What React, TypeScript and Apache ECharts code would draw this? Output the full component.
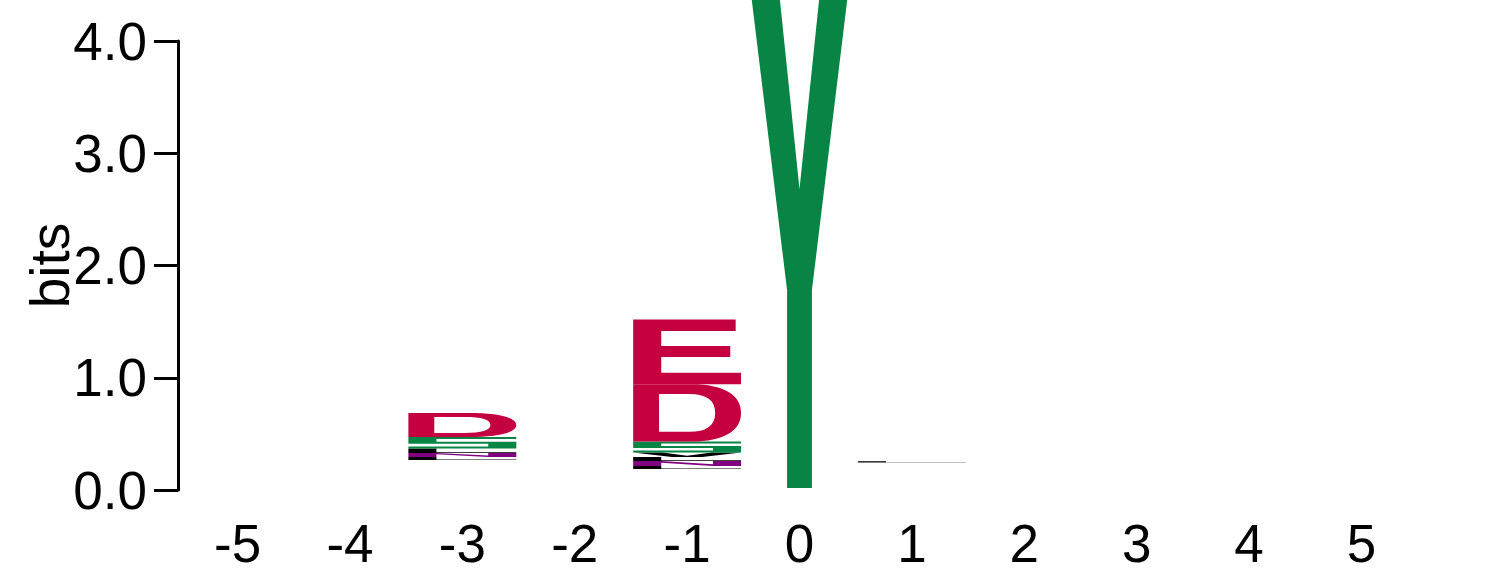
import React, { useEffect, useRef } from "react";
import * as echarts from "echarts";

// Positions along the sequence (x axis tick labels)
const positions = [-5, -4, -3, -2, -1, 0, 1, 2, 3, 4, 5];
// Empty space (bits) under each visible stack
const stackBase = [0, 0, 0.267, 0, 0.187, 0.018, 0.245, 0, 0, 0, 0];

// Letter stacks, bottom to top, with heights in bits
const posM3Letters = ["L", "N", "L", "S", "D"];
const posM3Bits = [0.027, 0.036, 0.04, 0.102, 0.214];
const posM1Letters = ["L", "N", "L", "V", "S", "D", "E"];
const posM1Bits = [0.027, 0.045, 0.036, 0.04, 0.098, 0.508, 0.579];
const pos0Letters = ["Y"];
const pos0Bits = [4.35];
const pos1Letters = ["L"];
const pos1Bits = [0.012];

const yTicks = [0, 1, 2, 3, 4];

const GLYPHS: Record<string, string> = {
  D: "M0,0 L55,0 C83,0 100,18 100,50 C100,82 83,100 55,100 L0,100 Z M24,17 L24,83 L52,83 C68,83 76,72 76,50 C76,28 68,17 52,17 Z",
  E: "M0,0 L95,0 L95,18 L26,18 L26,41 L90,41 L90,58 L26,58 L26,82 L100,82 L100,100 L0,100 Z",
  Y: "M0,0 L29.5,0 L50,38.8 L70.5,0 L100,0 L63,59.5 L63,100 L37,100 L37,59.5 Z",
  L: "M0,0 L26,0 L26,82 L100,82 L100,100 L0,100 Z",
  N: "M0,0 L26,0 L74,65 L74,0 L100,0 L100,100 L74,100 L26,35 L26,100 L0,100 Z",
  S: "M0,0 L100,0 L100,18 L26,18 L26,41 L100,41 L100,100 L0,100 L0,82 L74,82 L74,59 L0,59 Z",
  V: "M0,0 L27,0 L50,72 L73,0 L100,0 L64,100 L36,100 Z",
};
const COLORS: Record<string, string> = {
  D: "#C40041",
  E: "#C40041",
  Y: "#088544",
  S: "#088544",
  L: "#000000",
  V: "#000000",
  N: "#800080",
};
const LETTER_KEYS = Object.keys(GLYPHS);
const STACK_WIDTH = 0.96;
const Y_WIDTH = 0.85;

function buildData() {
  const stacks: [number, string[], number[]][] = [
    [-3, posM3Letters, posM3Bits],
    [-1, posM1Letters, posM1Bits],
    [0, pos0Letters, pos0Bits],
    [1, pos1Letters, pos1Bits],
  ];
  const data: number[][] = [];
  stacks.forEach(([pos, letters, bits]) => {
    let y = stackBase[positions.indexOf(pos)];
    letters.forEach((l, i) => {
      data.push([pos, y, y + bits[i], LETTER_KEYS.indexOf(l)]);
      y += bits[i];
    });
  });
  return data;
}

const FONT = "'Liberation Sans', Arial, Helvetica, sans-serif";

export default function App() {
  const ref = useRef<HTMLDivElement>(null);
  useEffect(() => {
    if (!ref.current) return;
    const chart = echarts.init(ref.current, null, { renderer: "svg" });
    chart.setOption({
      animation: false,
      backgroundColor: "#ffffff",
      grid: { left: 178, top: 41, bottom: 93, right: 65 },
      xAxis: {
        type: "value",
        min: -5.53,
        max: 5.53,
        axisLine: { show: false, onZero: false },
        axisTick: { show: false },
        splitLine: { show: false },
        axisLabel: {
          customValues: positions,
          formatter: (v: number) => String(v),
          fontSize: 53,
          fontFamily: FONT,
          color: "#000",
          margin: 27,
        },
      },
      yAxis: {
        type: "value",
        min: 0,
        max: 4,
        interval: 1,
        name: "bits",
        nameLocation: "middle",
        nameGap: 101,
        nameMoveOverlap: false,
        nameTextStyle: { fontSize: 55, fontFamily: FONT, color: "#000" },
        axisLine: { show: true, onZero: false, lineStyle: { color: "#000", width: 3 } },
        axisTick: { show: true, length: 24, lineStyle: { color: "#000", width: 3 } },
        splitLine: { show: false },
        axisLabel: {
          customValues: yTicks,
          formatter: (v: number) => v.toFixed(1),
          fontSize: 53,
          fontFamily: FONT,
          color: "#000",
          margin: 31,
        },
      },
      series: [
        {
          type: "custom",
          clip: false,
          encode: { x: 0, y: [1, 2] },
          data: buildData(),
          renderItem: (params: any, api: any) => {
            const x = api.value(0);
            const y0 = api.value(1);
            const y1 = api.value(2);
            const letter = LETTER_KEYS[api.value(3)];
            const w = letter === "Y" ? Y_WIDTH : STACK_WIDTH;
            const p0 = api.coord([x - w / 2, y1]);
            const p1 = api.coord([x + w / 2, y0]);
            return {
              type: "path",
              shape: {
                pathData: GLYPHS[letter],
                x: p0[0],
                y: p0[1],
                width: p1[0] - p0[0],
                height: Math.max(p1[1] - p0[1], 0.5),
                layout: "cover",
              },
              style: { fill: COLORS[letter] },
            };
          },
        },
      ],
    });
    return () => chart.dispose();
  }, []);
  return (
    <div
      ref={ref}
      style={{ position: "fixed", left: 0, top: 0, width: 1486, height: 583, background: "#fff" }}
    />
  );
}
